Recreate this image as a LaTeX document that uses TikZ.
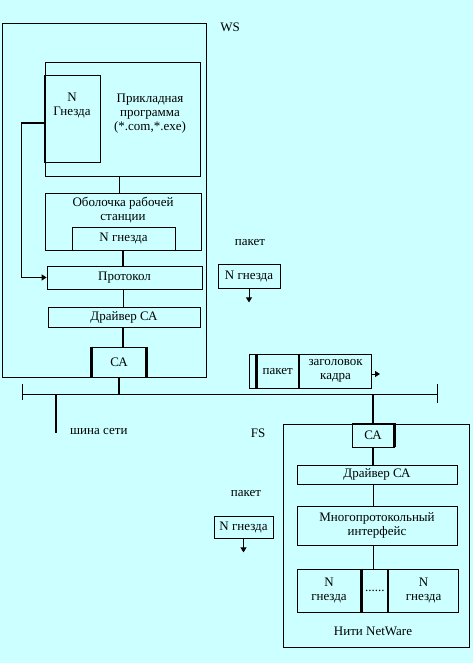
\documentclass[tikz,border=0pt]{standalone}
\usepackage{fontspec}
\setmainfont{Liberation Serif}
\usepackage{tikz}
\usetikzlibrary{arrows.meta,positioning,calc}
\definecolor{bg}{HTML}{CCFFFF}
\tikzset{
  blk/.style={draw=black, line width=0.8pt, inner sep=0pt, align=center,
              font=\fontsize{13}{14}\selectfont},
  sz/.style 2 args={minimum width=#1pt, minimum height=#2pt},
  lbl/.style={inner sep=0pt, align=center, font=\fontsize{13}{14}\selectfont},
  thn/.style={line width=0.8pt},
  thk/.style={line width=2.4pt},
  ar/.style={-{Triangle[length=5pt,width=6pt]}, line width=0.8pt},
}
\begin{document}
\begin{tikzpicture}[x=1pt,y=-1pt]
  \fill[bg] (0,0) rectangle (473,663);
  \useasboundingbox (0,0) rectangle (473,663);

  % рабочая станция
  \node[blk, sz={204}{354}] (ws) at (104,200) {};
  \node[lbl] (wsl) at (230,27) {WS};
  \node[blk, sz={155}{114}] (app) at (122.5,119) {};
  \node[blk, sz={56}{87}] (nsock) at (72,118.5) {};
  \node[lbl] (nsockt) at (72,106) {N\\Гнезда};
  \node[lbl] (appt) at (150,114) {Прикладная\\программа\\(*.com,*.exe)};
  \node[blk, sz={156}{57}] (shell) at (123,221.5) {};
  \node[lbl] (shellt) at (123,210) {Оболочка рабочей\\станции};
  \node[blk, sz={103}{23}] (shsock) at (123.5,238.5) {N гнезда};
  \node[blk, sz={155}{23}] (proto) at (124.5,277.5) {Протокол};
  \node[blk, sz={152}{20}] (drvws) at (124,317) {Драйвер СА};
  \node[blk, sz={54}{30}] (caws) at (119,362) {СА};

  \draw[thn] (app.south -| 119,0) -- (shell.north -| 119,0);
  \draw[thk] (shell.south -| 123,0) -- (proto.north -| 123,0);
  \draw[thn] (proto.south -| 123,0) -- (drvws.north -| 123,0);
  \draw[thk] (drvws.south -| 123,0) -- (caws.north -| 123,0);
  \draw[thk] (caws.north west) -- (caws.south west)
             (caws.north east) -- (caws.south east);
  \draw[ar, line width=1.3pt] ([yshift=-4.5pt]nsock.west) -- ++(-22,0) |- (proto.west);

  % шина
  \coordinate (busl) at (22,394);
  \coordinate (busr) at (437,394);
  \draw[thn] (busl) -- (busr);
  \draw[thn] ([yshift=10pt]busl) -- ([yshift=-6pt]busl);
  \draw[thn] ([yshift=10pt]busr) -- ([yshift=-9pt]busr);
  \coordinate (stub) at (56,433);
  \draw[thk] (stub |- busl) -- (stub);
  \node[lbl, anchor=west] (bust) at (70,431) {шина сети};
  \draw[thk] (caws.south) -- (caws.south |- busl);

  % пакеты
  \node[lbl] (pk1t) at (250,242) {пакет};
  \node[blk, sz={62}{24}] (pk1) at (249,276) {N гнезда};
  \coordinate[below=14pt of pk1] (pk1e);
  \draw[ar] (pk1) -- (pk1e);

  \node[blk, sz={7}{34}] (fr0) at (252.5,371) {};
  \node[blk, sz={42}{34}, right=0pt of fr0] (frpk) {пакет};
  \node[blk, sz={72}{34}, right=0pt of frpk] (frhd) {заголовок\\кадра};
  \draw[thk] (frpk.north west) -- (frpk.south west)
             (frhd.north west) -- (frhd.south west);
  \coordinate[right=8pt of frhd] (frhde);
  \draw[ar] ([yshift=-3pt]frhd.east) -- ([yshift=-3pt]frhde);

  \node[lbl] (pk2t) at (246,493) {пакет};
  \node[blk, sz={59}{22}] (pk2) at (243.5,527) {N гнезда};
  \coordinate[below=14pt of pk2] (pk2e);
  \draw[ar] (pk2) -- (pk2e);

  % файловый сервер
  \node[blk, sz={186}{223}] (fs) at (376,535.5) {};
  \node[lbl] (fsl) at (258,433) {FS};
  \node[blk, sz={42}{24}] (cafs) at (373,435) {СА};
  \draw[thk] (cafs.north east) -- (cafs.south east);
  \draw[thk] (cafs.north |- busl) -- (cafs.north);
  \node[blk, sz={160}{19}] (drvfs) at (377,474.5) {Драйвер СА};
  \node[blk, sz={160}{39}] (multi) at (377,525.5) {Многопротокольный\\интерфейс};
  \node[blk, sz={64}{43}] (sl1) at (329,590.5) {N\\гнезда};
  \node[blk, sz={26}{43}, right=0pt of sl1] (sldots) {......};
  \node[blk, sz={70}{43}, right=0pt of sldots] (sl2) {N\\гнезда};
  \draw[thk] (sl1.north east) -- (sl1.south east);
  \node[lbl] (fst) at (373,631) {Нити NetWare};

  \draw[thk] (cafs.south) -- (cafs.south |- drvfs.north);
  \draw[thn] (drvfs.south -| cafs.south) -- (multi.north -| cafs.south);
  \draw[thn] (multi.south -| cafs.south) -- (sldots.north -| cafs.south);
\end{tikzpicture}
\end{document}
